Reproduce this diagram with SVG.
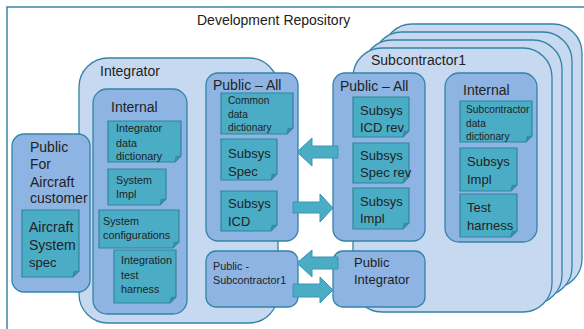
<svg xmlns="http://www.w3.org/2000/svg" width="584" height="329" viewBox="0 0 584 329">
<style>
text{font-family:"Liberation Sans",Arial,sans-serif;fill:#222;}
.frame{fill:#fff;stroke:#3a87a8;stroke-width:1.5;}
.big{fill:#c6d9f1;stroke:#3483a6;stroke-width:1.3;}
.box{fill:#8eb4e3;stroke:#3483a6;stroke-width:1.3;}
.doc{fill:#4bacc6;stroke:#31859c;stroke-width:1.2;}
.fold{fill:#3a8fa8;stroke:#31859c;stroke-width:0.8;}
.arr{fill:#4bacc6;stroke:#3a95b5;stroke-width:1;}
.t14{font-size:14px;}
.t13{font-size:13px;}
.t11{font-size:10.8px;}
.t10{font-size:10.2px;}
</style>
<rect class="frame" x="7" y="7" width="620" height="400"/>
<text class="t14" x="197" y="25">Development Repository</text>

<g id="integrator">
<rect class="big" x="79" y="58" width="199" height="265" rx="29"/>
<text class="t14" x="100" y="76">Integrator</text>
</g>

<g id="public-aircraft">
<rect class="box" x="12" y="134" width="78" height="158" rx="12"/>
<text class="t14" x="30" y="152">Public</text>
<text class="t14" x="30" y="169">For</text>
<text class="t14" x="30" y="187">Aircraft</text>
<text class="t14" x="30" y="203">customer</text>
</g>
<g id="aircraft-system-spec">
<path class="doc" d="M22 210H79V271L73 277H22Z"/><path class="fold" d="M79 271L73 277L74 271.5Z"/>
<text class="t14" x="29" y="232">Aircraft</text>
<text class="t14" x="29" y="250">System</text>
<text class="t13" x="29" y="267">spec</text>
</g>

<g id="integrator-internal">
<rect class="box" x="93" y="89" width="94" height="225" rx="14"/>
<text class="t14" x="111" y="112">Internal</text>
</g>
<g id="integrator-data-dictionary">
<path class="doc" d="M108 121H181V156L175 162H108Z"/><path class="fold" d="M181 156L175 162L176 156.5Z"/>
<text class="t11" x="116" y="132">Integrator</text>
<text class="t11" x="116" y="147">data</text>
<text class="t11" x="116" y="160">dictionary</text>
</g>
<g id="system-impl">
<path class="doc" d="M108 169H166V199L160 205H108Z"/><path class="fold" d="M166 199L160 205L161 199.5Z"/>
<text class="t11" x="116" y="184">System</text>
<text class="t11" x="116" y="198">Impl</text>
</g>
<g id="system-configurations">
<path class="doc" d="M99 210H179V242L173 248H99Z"/><path class="fold" d="M179 242L173 248L174 242.5Z"/>
<text class="t11" x="103" y="225">System</text>
<text class="t11" x="103" y="239">configurations</text>
</g>
<g id="integration-test-harness">
<path class="doc" d="M114 250H176V297L170 303H114Z"/><path class="fold" d="M176 297L170 303L171 297.5Z"/>
<text class="t11" x="121" y="264">Integration</text>
<text class="t11" x="121" y="279">test</text>
<text class="t11" x="121" y="293">harness</text>
</g>

<g id="integrator-public-all">
<rect class="box" x="206" y="73" width="92" height="168" rx="12"/>
<text class="t14" x="213" y="90">Public – All</text>
</g>
<g id="common-data-dictionary">
<path class="doc" d="M221 93H293V128L287 134H221Z"/><path class="fold" d="M293 128L287 134L288 128.5Z"/>
<text class="t10" x="228" y="104">Common</text>
<text class="t10" x="228" y="118">data</text>
<text class="t10" x="228" y="131">dictionary</text>
</g>
<g id="subsys-spec">
<path class="doc" d="M221 139H277V174L271 180H221Z"/><path class="fold" d="M277 174L271 180L272 174.5Z"/>
<text class="t13" x="228" y="158">Subsys</text>
<text class="t13" x="228" y="176">Spec</text>
</g>
<g id="subsys-icd">
<path class="doc" d="M221 191H277V225L271 231H221Z"/><path class="fold" d="M277 225L271 231L272 225.5Z"/>
<text class="t13" x="228" y="208">Subsys</text>
<text class="t13" x="228" y="226">ICD</text>
</g>

<g id="public-subcontractor1">
<rect class="box" x="206" y="251" width="92" height="56" rx="10"/>
<text class="t11" x="213" y="270">Public -</text>
<text class="t11" x="213" y="284">Subcontractor1</text>
</g>

<g id="subcontractor1">
<rect class="big" x="383" y="24" width="199" height="264" rx="29"/>
<rect class="big" x="373" y="32" width="199" height="264" rx="29"/>
<rect class="big" x="363" y="40" width="199" height="264" rx="29"/>
<rect class="big" x="353" y="48" width="199" height="264" rx="29"/>
<text class="t14" x="371" y="65">Subcontractor1</text>
</g>

<g id="sub-public-all">
<rect class="box" x="333" y="73" width="92" height="168" rx="12"/>
<text class="t14" x="340" y="91">Public – All</text>
</g>
<g id="subsys-icd-rev">
<path class="doc" d="M353 97H409V131L403 137H353Z"/><path class="fold" d="M409 131L403 137L404 131.5Z"/>
<text class="t13" x="360" y="115">Subsys</text>
<text class="t13" x="360" y="132">ICD rev</text>
</g>
<g id="subsys-spec-rev">
<path class="doc" d="M353 143H409V177L403 183H353Z"/><path class="fold" d="M409 177L403 183L404 177.5Z"/>
<text class="t13" x="360" y="160">Subsys</text>
<text class="t13" x="360" y="177">Spec rev</text>
</g>
<g id="sub-subsys-impl">
<path class="doc" d="M353 188H409V223L403 229H353Z"/><path class="fold" d="M409 223L403 229L404 223.5Z"/>
<text class="t13" x="360" y="206">Subsys</text>
<text class="t13" x="360" y="223">Impl</text>
</g>

<g id="sub-internal">
<rect class="box" x="445" y="73" width="92" height="169" rx="14"/>
<text class="t14" x="463" y="95">Internal</text>
</g>
<g id="subcontractor-data-dictionary">
<path class="doc" d="M460 101H532V136L526 142H460Z"/><path class="fold" d="M532 136L526 142L527 136.5Z"/>
<text class="t10" x="466" y="113">Subcontractor</text>
<text class="t10" x="466" y="127">data</text>
<text class="t10" x="466" y="140">dictionary</text>
</g>
<g id="internal-subsys-impl">
<path class="doc" d="M460 148H517V185L511 191H460Z"/><path class="fold" d="M517 185L511 191L512 185.5Z"/>
<text class="t13" x="467" y="166">Subsys</text>
<text class="t13" x="467" y="184">Impl</text>
</g>
<g id="test-harness">
<path class="doc" d="M460 194H517V231L511 237H460Z"/><path class="fold" d="M517 231L511 237L512 231.5Z"/>
<text class="t13" x="467" y="212">Test</text>
<text class="t13" x="467" y="230">harness</text>
</g>

<g id="public-integrator">
<rect class="box" x="333" y="251" width="92" height="56" rx="10"/>
<text class="t13" x="354" y="267">Public</text>
<text class="t13" x="354" y="284">Integrator</text>
</g>

<g id="connectors">
<polygon class="arr" points="338,146 312,146 312,138 297,152 312,166 312,158 338,158"/>
<polygon class="arr" points="293,202 320,202 320,194 333,208 320,222 320,213 293,213"/>
<polygon class="arr" points="338,257 312,257 312,250 297,263 312,277 312,269 338,269"/>
<polygon class="arr" points="293,284 320,284 320,277 333,290 320,303 320,297 293,297"/>
</g>
</svg>
